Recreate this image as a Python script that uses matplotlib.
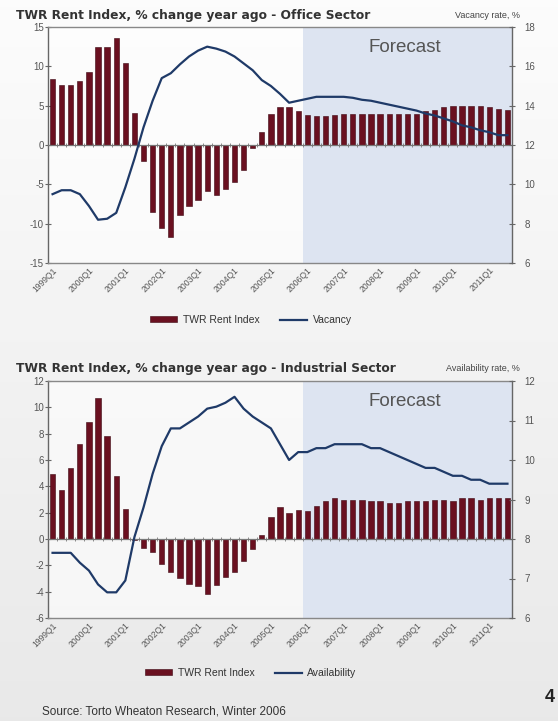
import numpy as np
import matplotlib.pyplot as plt
from matplotlib.patches import Patch
from matplotlib.lines import Line2D
from matplotlib.transforms import ScaledTranslation

plt.rcParams["axes.unicode_minus"] = False

# quarterly series, 1999Q1 .. 2011Q3
year_labels = ["1999Q1", "2000Q1", "2001Q1", "2002Q1", "2003Q1", "2004Q1", "2005Q1",
               "2006Q1", "2007Q1", "2008Q1", "2009Q1", "2010Q1", "2011Q1"]
forecast_from = "2006Q1"

office_rent = [8.4, 7.6, 7.6, 8.1, 9.3, 12.5, 12.5, 13.6, 10.4, 4.1,
               -2.0, -8.5, -10.6, -11.7, -8.9, -7.7, -7.0, -5.9, -6.3, -5.6,
               -4.7, -3.2, -0.4, 1.7, 4.0, 4.8, 4.8, 4.3, 3.8, 3.7,
               3.7, 3.8, 3.9, 3.9, 3.9, 3.9, 3.9, 3.9, 3.9, 3.9,
               4.0, 4.3, 4.5, 4.8, 4.9, 5.0, 4.9, 4.9, 4.8, 4.6, 4.4]
office_vacancy = [9.5, 9.7, 9.7, 9.5, 8.9, 8.2, 8.25, 8.55, 9.85, 11.3,
                  12.9, 14.25, 15.4, 15.65, 16.1, 16.5, 16.8, 17.0, 16.9, 16.75,
                  16.5, 16.15, 15.8, 15.3, 15.0, 14.6, 14.15, 14.25, 14.35, 14.45,
                  14.45, 14.45, 14.45, 14.4, 14.3, 14.25, 14.15, 14.05, 13.95, 13.85,
                  13.75, 13.6, 13.5, 13.35, 13.2, 13.0, 12.9, 12.75, 12.65, 12.5, 12.5]

industrial_rent = [4.9, 3.7, 5.4, 7.2, 8.9, 10.7, 7.8, 4.8, 2.3, -0.1,
                   -0.7, -1.0, -1.9, -2.5, -2.95, -3.45, -3.6, -4.2, -3.5, -2.9,
                   -2.5, -1.7, -0.75, 0.3, 1.7, 2.4, 1.95, 2.2, 2.15, 2.5,
                   2.85, 3.15, 2.95, 2.95, 2.95, 2.85, 2.85, 2.7, 2.7, 2.85,
                   2.85, 2.85, 2.95, 2.95, 2.85, 3.1, 3.1, 2.95, 3.15, 3.15, 3.1]
industrial_availability = [7.65, 7.65, 7.65, 7.4, 7.2, 6.85, 6.65, 6.65, 6.95, 8.05,
                           8.8, 9.65, 10.35, 10.8, 10.8, 10.95, 11.1, 11.3, 11.35, 11.45,
                           11.6, 11.3, 11.1, 10.95, 10.8, 10.4, 10.0, 10.2, 10.2, 10.3,
                           10.3, 10.4, 10.4, 10.4, 10.4, 10.3, 10.3, 10.2, 10.1, 10.0,
                           9.9, 9.8, 9.8, 9.7, 9.6, 9.6, 9.5, 9.5, 9.4, 9.4, 9.4]

BAR = "#6a1020"
LINE = "#1f3a68"
SHADE = "#dde4f1"
GREY = "#555555"
SANS = ["Liberation Sans", "DejaVu Sans"]

fig = plt.figure(figsize=(5.58, 7.21), dpi=100)
fig.patch.set_facecolor("#f3f3f3")

# slide background: light at the top, greyer toward the bottom
bg = fig.add_axes([0, 0, 1, 1], zorder=-10)
bg.imshow(np.linspace(0.985, 0.91, 200)[:, None], cmap="gray", vmin=0, vmax=1,
          aspect="auto", extent=(0, 1, 0, 1))
bg.set_axis_off()


def panel(rect, rent, rate, lims, step, rate_lims, rate_step, title, rate_title, rate_name, legend_y):
    ax = fig.add_axes(rect)
    ax.set_facecolor("#ffffff")
    ax.patch.set_alpha(0.6)
    x = np.arange(len(rent))
    ax.set_xlim(-0.5, len(rent) - 0.5)
    ax.set_ylim(*lims)

    # forecast period shading
    start = year_labels.index(forecast_from) * 4 - 0.5
    ax.axvspan(start, len(rent) - 0.5, color=SHADE, lw=0, zorder=0)

    ax.bar(x, rent, width=0.58, color=BAR, edgecolor="#3d0711", linewidth=0.4, zorder=2)
    ax.axhline(0, color="#777777", lw=0.9, zorder=3)
    ax.plot(x[:-1] + 0.5, np.zeros(len(x) - 1), ls="", marker="|", ms=3,
            mew=0.6, color="#777777", zorder=3)

    ax.set_yticks(np.arange(lims[0], lims[1] + 1, step))
    ax.set_xticks(x[::4])
    ax.set_xticklabels(year_labels, rotation=45, ha="right", va="top",
                       rotation_mode="anchor", fontsize=6.2, color=GREY, family=SANS)
    shift = ScaledTranslation(-7 / 72, -4 / 72, fig.dpi_scale_trans)
    for lab in ax.get_xticklabels():
        lab.set_transform(lab.get_transform() + shift)
    ax.tick_params(axis="x", length=0, pad=2)
    ax.tick_params(axis="y", direction="inout", length=4, labelsize=7,
                   labelcolor=GREY, color="#666666", pad=1)
    for lab in ax.get_yticklabels():
        lab.set_family(SANS)
    for s in ax.spines.values():
        s.set_color("#888888")
        s.set_linewidth(1.0)
    ax.spines["left"].set_color("#666666")

    ax2 = ax.twinx()
    ax2.plot(x, rate, color=LINE, lw=1.6, zorder=4)
    ax2.set_ylim(*rate_lims)
    ax2.set_yticks(np.arange(rate_lims[0], rate_lims[1] + 0.5, rate_step))
    ax2.tick_params(axis="y", direction="inout", length=4, labelsize=7,
                    labelcolor=GREY, color="#666666", pad=7)
    for lab in ax2.get_yticklabels():
        lab.set_family(SANS)
    for s in ax2.spines.values():
        s.set_visible(False)
    ax2.spines["right"].set_visible(True)
    ax2.spines["right"].set_color("#666666")

    ax.text(0.77, 0.915, "Forecast", transform=ax.transAxes, ha="center", va="center",
            fontsize=13.5, color=GREY, family=SANS)

    top = rect[1] + rect[3]
    fig.text(16 / 558, top + 12 / 721, title, ha="left", va="center",
             fontsize=8.8, fontweight="bold", color="#333333", family="DejaVu Sans")
    fig.text(520 / 558, top + 12 / 721, rate_title, ha="right", va="center",
             fontsize=6.5, color="#444444", family=SANS)

    handles = [Patch(facecolor=BAR, edgecolor="#3d0711", linewidth=0.4, label="TWR Rent Index"),
               Line2D([], [], color=LINE, lw=1.6, label=rate_name)]
    fig.legend(handles=handles, loc="center", bbox_to_anchor=(251 / 558, legend_y),
               ncol=2, frameon=False, prop={"family": SANS, "size": 7.5},
               handlelength=2.6, handleheight=0.45, handletextpad=0.5,
               columnspacing=2.0, labelcolor="#333333")
    return ax


panel([48 / 558, 1 - 263 / 721, 464 / 558, 236 / 721], office_rent, office_vacancy,
      (-15, 15), 5, (6, 18), 2,
      "TWR Rent Index, % change year ago - Office Sector", "Vacancy rate, %", "Vacancy",
      1 - 320 / 721)
panel([48 / 558, 1 - 618 / 721, 464 / 558, 237 / 721], industrial_rent, industrial_availability,
      (-6, 12), 2, (6, 12), 1,
      "TWR Rent Index, % change year ago - Industrial Sector", "Availability rate, %",
      "Availability", 1 - 673 / 721)

fig.text(42 / 558, 1 - 712 / 721, "Source: Torto Wheaton Research, Winter 2006",
         ha="left", va="center", fontsize=8.5, color="#333333", family=SANS)
fig.text(555 / 558, 1 - 697 / 721, "4", ha="right", va="center", fontsize=13,
         fontweight="bold", color="#222222", family=SANS)

fig.savefig("out.png", dpi=100, facecolor=fig.get_facecolor())
